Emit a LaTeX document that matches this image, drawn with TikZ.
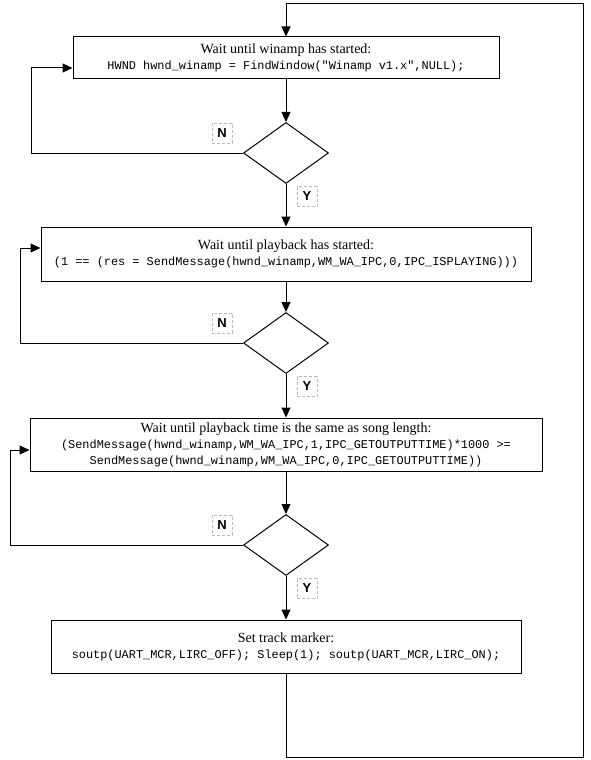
\documentclass[tikz,border=0pt]{standalone}
\usepackage{fontspec}
\setmainfont{Liberation Serif}
\setmonofont{Liberation Mono}
\newfontfamily\labelfont{Liberation Sans}
\usetikzlibrary{shapes.geometric,arrows.meta}

\tikzset{
  procbox/.style={draw, line width=1pt, rectangle, align=center, inner sep=0pt, font=\fontsize{14}{16}\selectfont},
  decision/.style={draw, line width=1pt, diamond, inner sep=0pt, minimum width=85pt, minimum height=61pt},
  answer/.style={draw=gray!55, dash pattern=on 3pt off 2pt, line width=1pt, inner sep=0pt, minimum width=20pt, minimum height=20pt, font=\labelfont\bfseries\fontsize{13}{13}\selectfont},
  flow/.style={line width=1pt, -{Triangle[length=10pt,width=9pt]}},
  back/.style={line width=1pt},
}
\newcommand{\codeline}[1]{{\ttfamily\fontsize{11.9}{16}\selectfont #1}}

\begin{document}
\begin{tikzpicture}[x=1pt,y=-1pt]
\useasboundingbox (0,0) rectangle (590,760);
\node [procbox, minimum width=426pt, minimum height=41pt] (box1) at (286,57.5)
  {Wait until winamp has started:\\ \codeline{HWND hwnd\_winamp = FindWindow("Winamp v1.x",NULL);}};
\node [decision] (dia1) at (286,153) {};
\node [answer] (n1) at (222,133) {N};
\node [answer] (y1) at (307,196.5) {Y};
\node [procbox, minimum width=490pt, minimum height=54pt] (box2) at (286,254)
  {Wait until playback has started:\\ \codeline{(1 == (res = SendMessage(hwnd\_winamp,WM\_WA\_IPC,0,IPC\_ISPLAYING)))}};
\node [decision] (dia2) at (286,343) {};
\node [answer] (n2) at (222,323) {N};
\node [answer] (y2) at (307,386.5) {Y};
\node [procbox, minimum width=512pt, minimum height=53pt] (box3) at (286,444.5)
  {Wait until playback time is the same as song length:\\ \codeline{(SendMessage(hwnd\_winamp,WM\_WA\_IPC,1,IPC\_GETOUTPUTTIME)*1000 >=}\\ \codeline{SendMessage(hwnd\_winamp,WM\_WA\_IPC,0,IPC\_GETOUTPUTTIME))}};
\node [decision] (dia3) at (286,545) {};
\node [answer] (n3) at (222,525) {N};
\node [answer] (y3) at (307,588.5) {Y};
\node [procbox, minimum width=470pt, minimum height=53pt] (box4) at (286,646.5)
  {Set track marker:\\ \codeline{soutp(UART\_MCR,LIRC\_OFF); Sleep(1); soutp(UART\_MCR,LIRC\_ON);}};
\coordinate (loop1) at (31,68);
\coordinate (loop2) at (20,248);
\coordinate (loop3) at (10,450);
\coordinate (bottomright) at (583,757);
\coordinate (topright) at (583,4);
\draw [flow] (box1) -- (dia1);
\draw [flow] (dia1) -- (box2);
\draw [flow] (box2) -- (dia2);
\draw [flow] (dia2) -- (box3);
\draw [flow] (box3) -- (dia3);
\draw [flow] (dia3) -- (box4);
\draw [flow] (dia1.west) -| (loop1) -- (box1.west |- loop1);
\draw [flow] (dia2.west) -| (loop2) -- (box2.west |- loop2);
\draw [flow] (dia3.west) -| (loop3) -- (box3.west |- loop3);
\draw [flow] (box4.south) |- (bottomright) -- (topright) -| (box1.north);
\end{tikzpicture}
\end{document}
